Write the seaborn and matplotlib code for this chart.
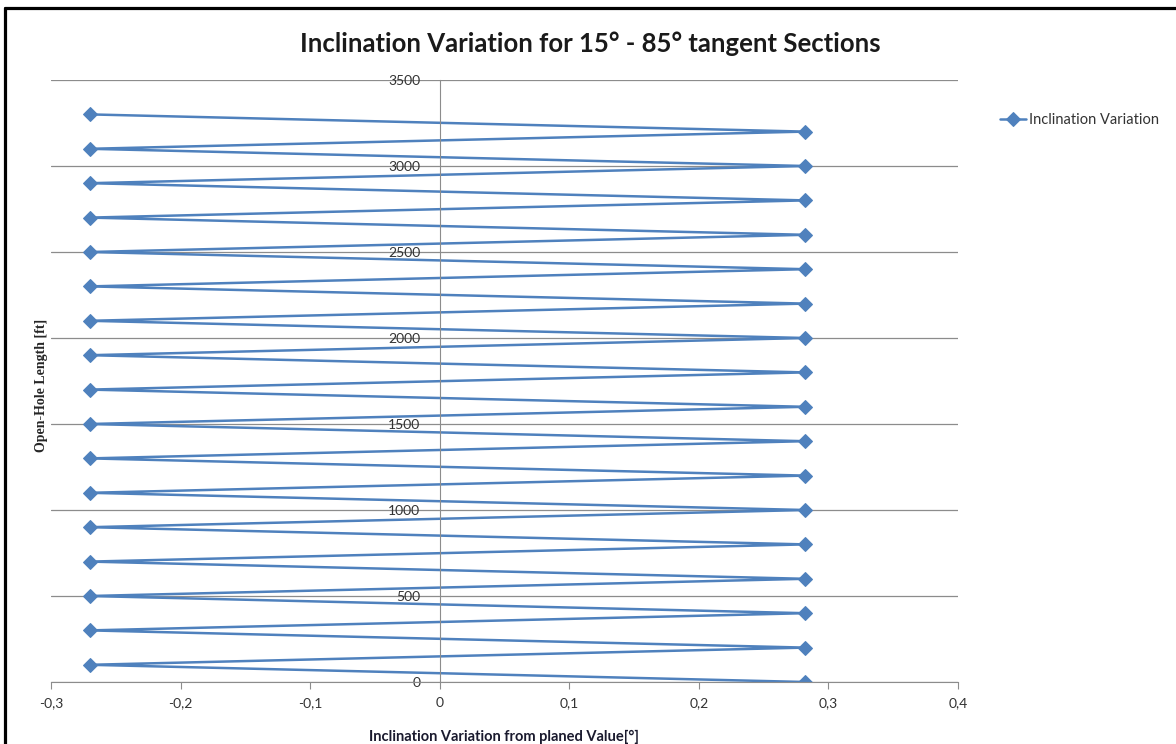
import numpy as np
import pandas as pd
import seaborn as sns
import matplotlib.pyplot as plt
from matplotlib.lines import Line2D
from matplotlib.ticker import FuncFormatter

# ==========================================
# dados
# ==========================================
comprimento = [0, 100, 200, 300, 400, 500, 600, 700, 800, 900,
               1000, 1100, 1200, 1300, 1400, 1500, 1600, 1700, 1800, 1900,
               2000, 2100, 2200, 2300, 2400, 2500, 2600, 2700, 2800, 2900,
               3000, 3100, 3200, 3300]
variacao = [0.282, -0.27, 0.282, -0.27, 0.282, -0.27, 0.282, -0.27, 0.282, -0.27,
            0.282, -0.27, 0.282, -0.27, 0.282, -0.27, 0.282, -0.27, 0.282, -0.27,
            0.282, -0.27, 0.282, -0.27, 0.282, -0.27, 0.282, -0.27, 0.282, -0.27,
            0.282, -0.27, 0.282, -0.27]
x_ticks = [-0.3, -0.2, -0.1, 0, 0.1, 0.2, 0.3, 0.4]
y_ticks = [0, 500, 1000, 1500, 2000, 2500, 3000, 3500]

df = pd.DataFrame({'Variacao': variacao, 'Comprimento': comprimento})

sns.set_style('white')
plt.rcParams['font.family'] = ['Lato', 'DejaVu Sans']

fig = plt.figure(figsize=(11.76, 7.44), dpi=100)
ax = fig.add_axes([51 / 1176, 1 - 682 / 744, (958 - 51) / 1176, (682 - 80) / 744])

azul = '#4F81BD'
sns.lineplot(data=df, x='Variacao', y='Comprimento', sort=False, estimator=None,
             color=azul, linewidth=1.8, marker='D', markersize=7,
             markeredgecolor=azul, label='Inclination Variation', ax=ax)

ax.set_xlim(-0.3, 0.4)
ax.set_ylim(0, 3500)
ax.set_xticks(x_ticks)
ax.set_yticks(y_ticks)

def virgula(v, pos):
    if abs(v) < 1e-9:
        return '0'
    return f'{v:.1f}'.replace('.', ',')

ax.xaxis.set_major_formatter(FuncFormatter(virgula))
ax.yaxis.grid(True, color='#8c8c8c', linewidth=0.9)
ax.xaxis.grid(False)

# eixo Y cruzando em x = 0, estilo Excel
ax.spines['left'].set_position(('data', 0))
ax.spines['left'].set_color('#8c8c8c')
ax.spines['bottom'].set_color('#8c8c8c')
ax.spines['top'].set_visible(False)
ax.spines['right'].set_visible(False)
ax.tick_params(axis='y', length=0, pad=14, labelsize=10, labelcolor='#333333')
ax.tick_params(axis='x', direction='out', length=5, color='#8c8c8c', pad=6,
               labelsize=10, labelcolor='#333333', bottom=True)

ax.set_xlabel('')
ax.set_ylabel('')
fig.text(504 / 1176, 1 - 737 / 744, 'Inclination Variation from planed Value[°]',
         ha='center', va='center', fontsize=10.5, fontweight='bold', color='#1a1a2e')
fig.text(42 / 1176, 1 - 385 / 744, 'Open-Hole Length [ft]', rotation=90,
         ha='center', va='center', fontsize=10, fontweight='bold',
         family=['Liberation Serif', 'DejaVu Serif'])

fig.text(590 / 1176, 1 - 44 / 744, 'Inclination Variation for 15° - 85° tangent Sections',
         ha='center', va='center', fontsize=18.5, fontweight='bold', color='#1a1a1a')

leg = ax.legend(loc='upper left', bbox_to_anchor=(1.04, 0.955), frameon=False,
                fontsize=10.5, handlelength=1.8, handletextpad=0.2, borderaxespad=0)
for t in leg.get_texts():
    t.set_color('#333333')

# moldura recortada (esquerda e topo)
fig.add_artist(Line2D([5 / 1176, 5 / 1176], [0, 1 - 8 / 744], color='black',
                      linewidth=2.3, transform=fig.transFigure))
fig.add_artist(Line2D([5 / 1176, 1], [1 - 8 / 744, 1 - 8 / 744], color='black',
                      linewidth=2.3, transform=fig.transFigure))

plt.savefig('out.png', dpi=100)
